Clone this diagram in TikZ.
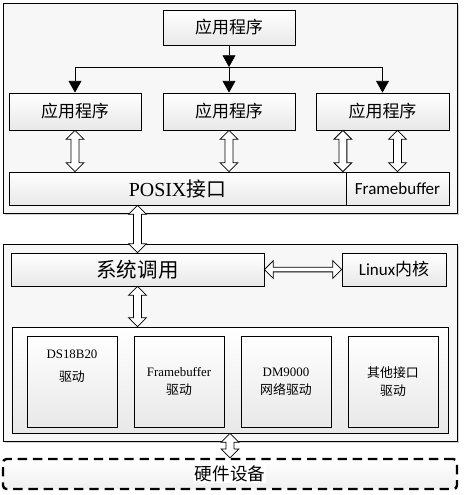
\documentclass[tikz,border=0pt]{standalone}
\usepackage{fontspec}
\setmainfont{Liberation Serif}
\newfontfamily\cjk{Noto Sans CJK SC}
\newfontfamily\calib{Carlito}
\usetikzlibrary{arrows.meta,calc,shadows}

\begin{document}
\begin{tikzpicture}[x=0.03cm, y=-0.03cm,
  frame/.style={draw, line width=0.7pt, fill=gray!6,
    drop shadow={shadow xshift=1.5pt, shadow yshift=-1.5pt, opacity=0.35}},
  box/.style={draw, line width=0.7pt, top color=white, bottom color=gray!18,
    inner sep=0pt, drop shadow={shadow xshift=1pt, shadow yshift=-1pt, opacity=0.2}},
  appbox/.style={box, minimum width=3.96cm, minimum height=1.11cm,
    font=\fontsize{14.5}{17}\selectfont\cjk},
  drvbox/.style={box, minimum width=2.7cm, minimum height=2.73cm,
    align=center, font=\fontsize{11}{15}\selectfont},
  tree/.style={line width=0.7pt, -{Triangle[length=10pt,width=11pt]}},
  dblarrow/.style={draw, line width=0.7pt, fill=white, to path={
    -- ($(\tikztostart)!7.5pt!(\tikztotarget)!7.5pt!90:(\tikztotarget)$)
    -- ($(\tikztostart)!7.5pt!(\tikztotarget)!#1!90:(\tikztotarget)$)
    -- ($(\tikztotarget)!7.5pt!(\tikztostart)!#1!-90:(\tikztostart)$)
    -- ($(\tikztotarget)!7.5pt!(\tikztostart)!7.5pt!-90:(\tikztostart)$)
    -- (\tikztotarget)
    -- ($(\tikztotarget)!7.5pt!(\tikztostart)!7.5pt!90:(\tikztostart)$)
    -- ($(\tikztotarget)!7.5pt!(\tikztostart)!#1!90:(\tikztostart)$)
    -- ($(\tikztostart)!7.5pt!(\tikztotarget)!#1!-90:(\tikztotarget)$)
    -- ($(\tikztostart)!7.5pt!(\tikztotarget)!7.5pt!-90:(\tikztotarget)$)
    -- cycle}},
  dblarrow/.default=3.4pt,
  hwbox/.style={draw, line width=2pt, dash pattern=on 8pt off 5pt,
    rounded corners=3pt, top color=white, bottom color=gray!12}
]
\useasboundingbox (0,0) rectangle (464,495);

% user space
\node[frame, minimum width=13.62cm, minimum height=6.3cm] (user) at (230,108) {};
\node[appbox, minimum height=1.05cm] (top) at (229,27.5) {应用程序};
\node[appbox] (app1) at (75,111.5) {应用程序};
\node[appbox] (app2) at (229,111.5) {应用程序};
\node[appbox, minimum width=3.99cm] (app3) at (382.5,111.5) {应用程序};
\node[box, minimum width=10.11cm, minimum height=0.99cm,
  font=\fontsize{17}{20}\selectfont] (posix) at (177.5,188.5) {POSIX{\cjk 接口}};
\node[box, minimum width=3.09cm, minimum height=0.99cm,
  font=\fontsize{14.5}{17}\selectfont\calib] (fb) at (397.5,188.5) {Framebuffer};

% kernel space
\node[frame, minimum width=13.62cm, minimum height=5.91cm] (kernel) at (230,342.5) {};
\node[box, minimum width=7.59cm, minimum height=0.99cm,
  font=\fontsize{17.5}{20}\selectfont\cjk] (syscall) at (137.5,269.5) {系统调用};
\node[box, minimum width=3.12cm, minimum height=0.99cm,
  font=\fontsize{14.5}{17}\selectfont] (linux) at (394,269.5) {{\calib Linux}{\cjk 内核}};
\node[box, minimum width=13.08cm, minimum height=3.18cm] (drivers) at (230,380) {};
\node[drvbox] (ds) at (72,381.5) {DS18B20\\[5pt]{\cjk 驱动}\\[12pt]};
\node[drvbox] (fbdrv) at (179,381.5) {Framebuffer\\{\cjk 驱动}};
\node[drvbox] (dm) at (286,381.5) {DM9000\\{\cjk 网络驱动}};
\node[drvbox] (other) at (393,381.5) {{\cjk 其他接口}\\{\cjk 驱动}};

% hardware
\node[hwbox, minimum width=13.62cm, minimum height=0.9cm] (hw) at (230,474) {};
\node[fill=white, inner sep=1pt, font=\fontsize{15}{18}\selectfont\cjk] (hwtext) at (hw.center) {硬件设备};

% application tree
\coordinate (split) at (229,67);
\draw[tree] (top.south) -- (split);
\draw[tree] (split) -- (app2.north);
\draw[tree] (split) -| (app1.north);
\draw[tree] (split) -| (app3.north);

% double arrows
\draw[dblarrow] (app1.south) to (app1.south |- posix.north);
\draw[dblarrow] (app2.south) to (app2.south |- posix.north);
\coordinate (a3top) at ([xshift=-3pt]app3.south -| posix.east);
\coordinate (a3bot) at ([xshift=-3pt]posix.north east);
\draw[dblarrow] (a3top) to (a3bot);
\draw[dblarrow] (app3.south -| fb.north) to (fb.north);
\draw[dblarrow] (syscall.north |- posix.south) to (syscall.north);
\draw[dblarrow] (syscall.south) to (syscall.south |- drivers.north);
\draw[dblarrow=2pt] (syscall.east) to (linux.west);
\draw[dblarrow] (drivers.south) to (hw.north);
\end{tikzpicture}
\end{document}
